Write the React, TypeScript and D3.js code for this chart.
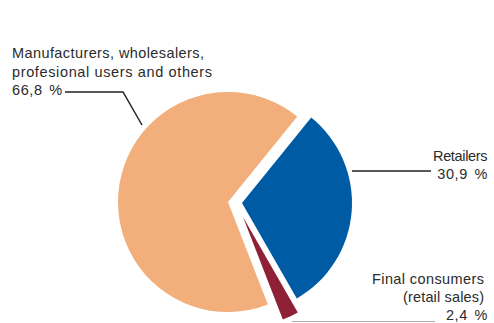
import React from "react";
import * as d3 from "d3";

const categories = ["Retailers", "Final consumers (retail sales)", "Manufacturers, wholesalers, profesional users and others"];
const values = [30.9, 2.4, 66.8];
const valueLabels = ["30,9 %", "2,4 %", "66,8 %"];
const colors = ["#005BA5", "#8F2136", "#F2AF7B"];

const W = 494;
const H = 323;
const cx = 228;
const cy = 202;
const R = 110;
const offsets: [number, number][] = [[14, 1], [15, 15], [0, 0]];

type Lbl = { t: string; x: number; y: number; w?: number; pct?: boolean };

export default function App() {
  const start = (39 * Math.PI) / 180;
  const pie = d3.pie<number>().sort(null).startAngle(start).endAngle(start + 2 * Math.PI);
  const arcs = pie(values);
  const arc = d3.arc<d3.PieArcDatum<number>>().innerRadius(0).outerRadius(R);
  const font = "'Liberation Sans', Arial, sans-serif";
  const textFill = "#2b2b2b";
  const labels: Lbl[] = [
    { t: "Manufacturers, wholesalers,", x: 12, y: 58, w: 192 },
    { t: "profesional users and others", x: 12, y: 76.5, w: 200 },
    { t: valueLabels[2], x: 12, y: 94.5, pct: true },
    { t: categories[0], x: 433, y: 161, w: 54.5 },
    { t: valueLabels[0], x: 488, y: 179, pct: true },
    { t: "Final consumers", x: 372, y: 284, w: 112 },
    { t: "(retail sales)", x: 403, y: 302, w: 81 },
    { t: valueLabels[1], x: 488, y: 320, pct: true },
  ];
  return (
    <svg width={W} height={H} style={{ position: "absolute", left: 0, top: 0, display: "block" }}>
      <rect width={W} height={H} fill="#fff" />
      <g transform={`translate(${cx},${cy})`}>
        {arcs.map((a, i) => (
          <path key={i} d={arc(a) || ""} fill={colors[i]} transform={`translate(${offsets[i][0]},${offsets[i][1]})`} />
        ))}
      </g>
      <g fontFamily={font} fontSize={14.5} fill={textFill}>
        {labels.map((l, i) =>
          l.pct ? (
            <text key={i} x={l.x} y={l.y} wordSpacing={2} letterSpacing={0.6} textAnchor={l.x > 200 ? "end" : "start"}>
              {l.t}
            </text>
          ) : (
            <text key={i} x={l.x} y={l.y} textLength={l.w} lengthAdjust="spacing">
              {l.t}
            </text>
          )
        )}
      </g>
      <polyline points="65,92 123,92 142,125" fill="none" stroke="#222" strokeWidth={1.5} />
      <line x1={352} y1={171} x2={431} y2={171} stroke="#222" strokeWidth={1.5} />
      <line x1={292} y1={321.5} x2={435} y2={321.5} stroke="#aaa" strokeWidth={1} />
    </svg>
  );
}
